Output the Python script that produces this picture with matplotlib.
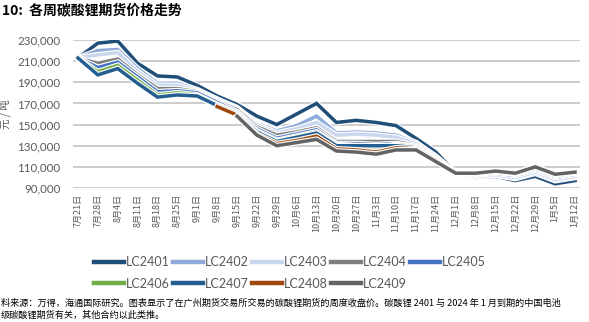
# -*- coding: utf-8 -*-
# 各周碳酸锂期货价格走势

import numpy as np
import matplotlib.pyplot as plt
import matplotlib.patheffects as pe
from matplotlib.ticker import FuncFormatter

plt.rcParams['font.family'] = ['Lato', 'Noto Sans CJK SC', 'DejaVu Sans']

fechas = ['7月21日', '7月28日', '8月4日', '8月11日', '8月18日', '8月25日', '9月1日',
          '9月8日', '9月15日', '9月22日', '9月29日', '10月6日', '10月13日', '10月20日',
          '10月27日', '11月3日', '11月10日', '11月17日', '11月24日', '12月1日', '12月8日',
          '12月15日', '12月22日', '12月29日', '1月5日', '1月12日']

nan = np.nan
lc2401 = [213, 227, 229, 208, 196, 195, 187, 177, 169, 158, 150, 160, 170, 152, 154, 152,
          149, 137, 124, 104, 100, 101, 97, 101, 94, 97]
lc2402 = [213, 220, 221, 203, 189, 189, 183, 174, 166, 151, 144, 149, 158, 142, 143, 142,
          140, 133, 120, 104, 101, 102, 99, 104, 97, 100]
lc2403 = [213, 216, 218, 200, 187, 187, 182, 173, 165, 150, 142, 146, 152, 140, 141, 140,
          138, 132, 119, 104, 101, 102.5, 100, 105, 98, 101]
lc2404 = [213, 208, 212, 197, 184, 184, 181, 172, 164, 148, 140, 143, 147, 134, 134, 134,
          134, 130, 118, 104, 103, 105, 103, 108, 101, 104]
lc2405 = [213, 204, 209, 195, 181, 182, 180, 171, 162, 146, 137, 141, 145, 132, 132, 131,
          132, 129, 117, 104, 102.5, 104, 102, 107, 100, 103]
lc2406 = [213, 200, 206, 192, 178, 180, 178, 169, 161, 144, 135, 139, 143, 131, 130, 128,
          131, 129, 117, 104, 103, 105, 103, 108, 101, 104]
lc2407 = [213, 197, 203, 189, 176, 178, 177, 168, 160, 143, 134, 138, 142, 130, 130, 130,
          130, 128, 116, 104, 103.5, 105.5, 103.5, 109, 102, 104.5]
lc2408 = [nan, nan, nan, nan, nan, nan, nan, 167, 159, 141, 132, 135, 139, 127, 126, 124,
          128, 127, 116, 104, 104, 106, 104, 110.5, 103, 105]
lc2409 = [nan, nan, nan, nan, nan, nan, nan, nan, 158, 140, 130, 133, 136, 125, 124, 122,
          126, 126, 115, 104, 104, 106, 104, 110, 103, 105]

contratos = ['LC2401', 'LC2402', 'LC2403', 'LC2404', 'LC2405',
             'LC2406', 'LC2407', 'LC2408', 'LC2409']
series = [lc2401, lc2402, lc2403, lc2404, lc2405, lc2406, lc2407, lc2408, lc2409]
colores = ['#1f4e79', '#8eaadb', '#c9d8ef', '#7f7f7f', '#4472c4',
           '#70ad47', '#255e91', '#9e480e', '#636363']

cjk = ['Noto Sans CJK SC', 'DejaVu Sans']

fig = plt.figure(figsize=(5.89, 3.22), dpi=100)
ax = fig.add_axes([73/589, 1 - 188/322, 507/589, 148/322])

x = np.arange(len(fechas))
lineas = []
for nombre, datos, c in zip(contratos, series, colores):
    y = np.array(datos, dtype=float) * 1000
    l, = ax.plot(x, y, color=c, lw=2.5, label=nombre, solid_joinstyle='miter',
                 path_effects=[pe.Stroke(linewidth=4.2, foreground='white'), pe.Normal()])
    lineas.append(l)

ax.set_ylim(90000, 230000)
ax.set_yticks(np.arange(90000, 230001, 20000))
ax.set_xlim(-0.25, len(fechas) - 0.75)
ax.set_xticks(x)
ax.set_xticklabels(fechas, rotation=90, fontsize=6.5, color='#595959', family=cjk)
ax.yaxis.set_major_formatter(FuncFormatter(lambda v, p: f'{v:,.0f}'))
ax.tick_params(axis='y', labelsize=8.3, colors='#595959', length=0, pad=9)
ax.tick_params(axis='x', length=0, pad=4)
ax.grid(axis='y', color='#c8c8c8', lw=1.3)
ax.set_axisbelow(True)
for s in ax.spines.values():
    s.set_visible(False)

ax.set_ylabel('元 / 吨', fontsize=7.5, color='#595959', family=cjk)
ax.yaxis.set_label_coords(-0.122, 0.5)

# orden para que la leyenda quede por filas
orden = [0, 5, 1, 6, 2, 7, 3, 8, 4]
leg = fig.legend([lineas[i] for i in orden], [contratos[i] for i in orden],
                 ncol=5, loc='upper left', bbox_to_anchor=(83/589, 1 - 245/322),
                 frameon=False, fontsize=9, handlelength=2.4, handletextpad=0.15,
                 columnspacing=0.25, labelspacing=0.75)
for t in leg.get_texts():
    t.set_color('#595959')
for h in leg.legend_handles:
    h.set_path_effects([])
    h.set_linewidth(3.2)

fig.text(2/589, 1 - 10/322, '10:  各周碳酸锂期货价格走势', fontsize=10, fontweight='bold',
         va='center', family=cjk)
fig.text(1/589, 1 - 303/322,
         '料来源：万得，海通国际研究。图表显示了在广州期货交易所交易的碳酸锂期货的周度收盘价。碳酸锂 2401 与 2024 年 1 月到期的中国电池',
         fontsize=6.6, va='center', family=cjk)
fig.text(1/589, 1 - 311/322,
         '级碳酸锂期货有关，其他合约以此类推。',
         fontsize=6.6, va='top', family=cjk)

fig.savefig('out.png', dpi=100)
